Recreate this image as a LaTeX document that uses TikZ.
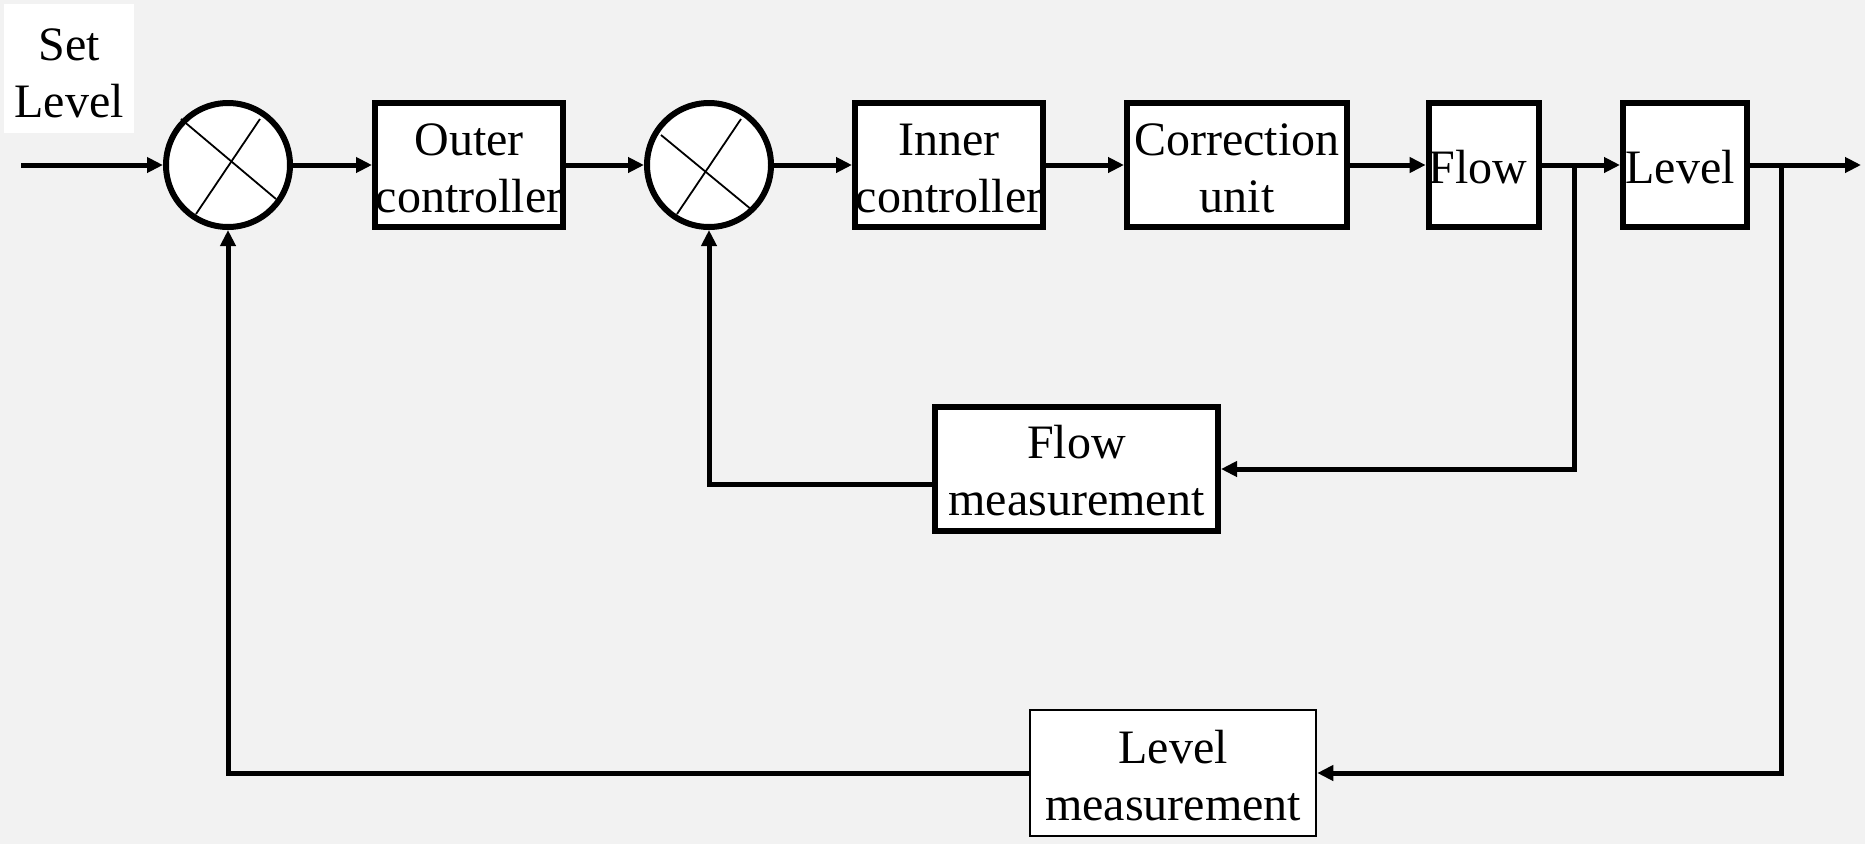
\documentclass[tikz,border=0pt]{standalone}
\usepackage{fontspec}
\setmainfont{Liberation Serif}
\usetikzlibrary{arrows.meta,calc}
\definecolor{bgcol}{RGB}{242,242,242}
% extra height on a first line, lowering the text block a little
\newcommand{\topstrut}[1]{\rule{0pt}{#1}}
\tikzset{
  blk/.style={draw, line width=6pt, fill=white, inner sep=0pt, align=center,
    minimum height=124pt, font=\fontsize{48}{57}\selectfont},
  sumpt/.style={draw, circle, line width=6pt, fill=white, minimum size=124pt, inner sep=0pt},
  crossln/.style={line width=1.8pt},
  sig/.style={line width=5pt, -{Triangle[length=16pt,width=15pt]}},
}
\begin{document}
\begin{tikzpicture}[x=1pt, y=-1pt]
  \fill[bgcol] (0,0) rectangle (1865,844);
  \useasboundingbox (0,0) rectangle (1865,844);

  % set point label
  \node[fill=white, inner sep=0pt, align=center, minimum width=130pt, minimum height=129pt,
        font=\fontsize{48}{57}\selectfont] (sp) at (69,68) {\topstrut{42pt}Set\\Level};

  % summing junctions
  \node[sumpt] (s1) at (228,165) {};
  \node[sumpt] (s2) at (709,165) {};
  \draw[crossln] ($(s1.center)+(-47,-46)$) -- ($(s1.center)+(48,34)$);
  \draw[crossln] ($(s1.center)+(32,-46)$) -- ($(s1.center)+(-32,49)$);
  \draw[crossln] ($(s2.center)+(-48,-30)$) -- ($(s2.center)+(43,45)$);
  \draw[crossln] ($(s2.center)+(32,-46)$) -- ($(s2.center)+(-32,49)$);

  % forward path blocks
  \node[blk, minimum width=188pt] (oc) at (469,165) {\topstrut{38pt}Outer\\controller};
  \node[blk, minimum width=188pt] (ic) at (949,165) {\topstrut{38pt}Inner\\controller};
  \node[blk, minimum width=220pt] (cu) at (1237,165) {\topstrut{38pt}Correction\\unit};
  \node[blk, minimum width=108pt] (fl) at (1484,165) {\topstrut{38pt}Flow\hspace*{12pt}};
  \node[blk, minimum width=124pt] (lv) at (1685,165) {\topstrut{38pt}Level\hspace*{10pt}};

  % feedback blocks
  \node[blk, minimum width=283pt] (fm) at (1076.5,469) {\topstrut{36pt}Flow\\measurement};
  \node[blk, line width=2.5pt, minimum width=286pt, minimum height=126pt] (lm) at (1173,773) {\topstrut{38pt}Level\\measurement};

  % connection points
  \coordinate (in) at (21,165);
  \coordinate (out) at (1861,165);
  \coordinate (b1) at (1574,165);
  \coordinate (b2) at (1781,165);

  % forward path
  \draw[sig] (in) -- (s1.west);
  \draw[sig] (s1.east) -- (oc.west);
  \draw[sig] (oc.east) -- (s2.west);
  \draw[sig] (s2.east) -- (ic.west);
  \draw[sig] (ic.east) -- (cu.west);
  \draw[sig] (cu.east) -- (fl.west);
  \draw[sig] (fl.east) -- (lv.west);
  \draw[sig] (lv.east) -- (out);

  % inner loop
  \draw[sig] (b1) |- (fm.east);
  \draw[sig] ([yshift=-15pt]fm.west) -| (s2.south);

  % outer loop
  \draw[sig] (b2) |- (lm.east);
  \draw[sig] (lm.west) -| (s1.south);
\end{tikzpicture}
\end{document}
